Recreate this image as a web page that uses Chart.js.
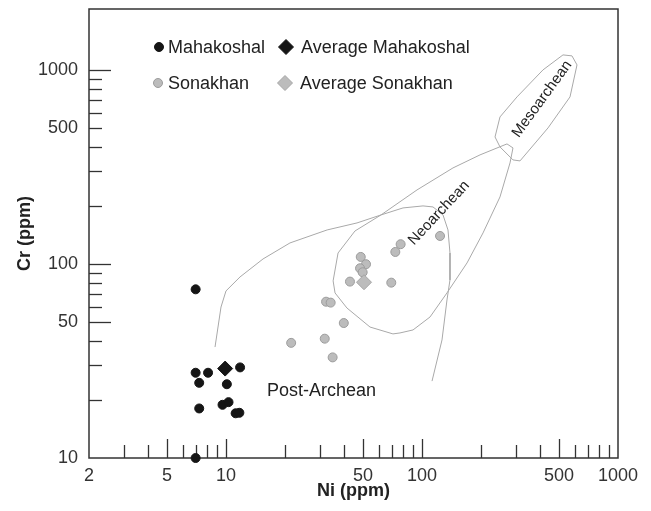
<!DOCTYPE html>
<html>
<head>
<meta charset="utf-8">
<script src="https://cdn.jsdelivr.net/npm/chart.js@4/dist/chart.umd.min.js"></script>
<style>
  html, body { margin: 0; padding: 0; background: #fff; }
</style>
</head>
<body>
<canvas id="grafico" width="651" height="511"></canvas>
<script>
// pontos das amostras (Ni, Cr em ppm)
const mahakoshalNi = [7.0, 7.0, 8.1, 11.8, 7.3, 10.1, 7.3, 9.6, 10.3, 11.2, 11.7, 7.0]
const mahakoshalCr = [74, 27.5, 27.5, 29.3, 24.4, 24.0, 18.0, 18.8, 19.4, 17.0, 17.1, 10]
const sonakhanNi = [21.5, 31.9, 35.0, 39.9, 32.4, 34.2, 42.9, 48.7, 51.8, 48.3, 49.8, 69.7, 73.1, 77.8, 123.6]
const sonakhanCr = [39.2, 41.2, 33.0, 49.6, 63.9, 63.2, 81.1, 108.7, 99.7, 95.0, 90.6, 80.1, 115.3, 126.4, 139.4]
const mediaMahakoshalNi = [9.9]
const mediaMahakoshalCr = [28.9]
const mediaSonakhanNi = [50.6]
const mediaSonakhanCr = [80.5]

// contornos dos campos
const campoNi = [8.79, 9.43, 10.0, 11.79, 15.45, 21.2, 32.8, 46.6, 61.8, 94.3, 143.9, 197.7, 271.4, 291.2, 281.2, 250, 204.8, 169.7, 134.1, 109.9, 90.0, 77.2, 71.1, 54.3, 41.4, 36.0, 35.2, 37.3, 45.5, 61.8, 80.0, 101.2, 113.8, 128.0, 135.7, 138.9, 138.9, 134.1, 126.5, 112.5]
const campoCr = [37.3, 60.0, 72.6, 85.7, 106.1, 128.3, 149.7, 162.7, 178.9, 240.7, 312.5, 364.8, 415.5, 396.2, 331.6, 221.5, 144.5, 101.2, 70.9, 53.3, 45.7, 44.1, 43.6, 47.3, 59.3, 70.9, 81.8, 113.9, 147.9, 178.9, 194.4, 199.1, 196.7, 178.9, 149.7, 113.9, 82.7, 65.2, 40.6, 24.9]
const mesoNi = [235.8, 250, 305.3, 414.4, 524.0, 582.4, 617.8, 569, 439.4, 316.2, 291.2, 250, 235.8]
const mesoCr = [451.3, 572.4, 725.8, 1000, 1195, 1181, 1061, 725.8, 502.3, 339.6, 343.7, 401, 451.3]

// eixos
const xTicks = [2, 5, 10, 50, 100, 500, 1000]
const yTicks = [10, 50, 100, 500, 1000]
const xMaiores = [5, 10, 50, 100, 500]
const xMenores = [3, 4, 6, 7, 8, 9, 20, 30, 40, 60, 70, 80, 90, 200, 300, 400, 600, 700, 800, 900]
const yMaiores = [50, 100, 1000]
const yMenores = [20, 30, 40, 60, 70, 80, 90, 200, 300, 400, 500, 600, 700, 800, 900]

const pares = (xs, ys) => xs.map((x, i) => ({ x: x, y: ys[i] }))

Chart.defaults.font.family = "'Liberation Sans', Arial, sans-serif"
Chart.defaults.color = '#333'

const cinzaLinha = '#a9a9a9'
const fonteTexto = "18px 'Liberation Sans', Arial, sans-serif"

// moldura e ticks para dentro
const moldura = {
    id: 'moldura',
    beforeDatasetsDraw(chart) {
        const { ctx, chartArea: a, scales: { x, y } } = chart
        ctx.save()
        ctx.strokeStyle = '#333'
        ctx.lineWidth = 1.5
        ctx.strokeRect(a.left, a.top, a.right - a.left, a.bottom - a.top)

        ctx.lineWidth = 1.3
        const tickX = (v, len) => {
            const px = Math.round(x.getPixelForValue(v)) + 0.5
            ctx.beginPath(); ctx.moveTo(px, a.bottom); ctx.lineTo(px, a.bottom - len); ctx.stroke()
        }
        const tickY = (v, len) => {
            const py = Math.round(y.getPixelForValue(v)) + 0.5
            ctx.beginPath(); ctx.moveTo(a.left, py); ctx.lineTo(a.left + len, py); ctx.stroke()
        }
        xMaiores.forEach(v => tickX(v, 19))
        xMenores.forEach(v => tickX(v, 13))
        yMaiores.forEach(v => tickY(v, 22))
        yMenores.forEach(v => tickY(v, 13))
        ctx.restore()
    }
}

// legenda e nomes dos campos
const rotulos = {
    id: 'rotulos',
    afterDatasetsDraw(chart) {
        const { ctx, chartArea: a, scales: { x, y } } = chart
        const ds = chart.data.datasets
        ctx.save()

        const itens = [
            { d: 0, px: a.left + 70, tx: a.left + 79, py: a.top + 38, label: 'Mahakoshal' },
            { d: 2, px: a.left + 197, tx: a.left + 212, py: a.top + 38, label: 'Average Mahakoshal' },
            { d: 1, px: a.left + 69, tx: a.left + 79, py: a.top + 74, label: 'Sonakhan' },
            { d: 3, px: a.left + 196, tx: a.left + 211, py: a.top + 74, label: 'Average Sonakhan' }
        ]
        itens.forEach(it => {
            const set = ds[it.d]
            ctx.fillStyle = set.backgroundColor
            ctx.strokeStyle = set.borderColor
            ctx.lineWidth = set.borderWidth
            Chart.helpers.drawPoint(ctx, {
                pointStyle: set.pointStyle,
                radius: set.pointRadius,
                borderWidth: set.borderWidth,
                rotation: 0
            }, it.px, it.py)
            ctx.fillStyle = '#222'
            ctx.font = fonteTexto
            ctx.textAlign = 'left'
            ctx.textBaseline = 'middle'
            ctx.fillText(it.label, it.tx, it.py + 1)
        })

        ctx.fillStyle = '#222'
        ctx.font = fonteTexto
        ctx.textAlign = 'left'
        ctx.textBaseline = 'middle'
        ctx.fillText('Post-Archean', x.getPixelForValue(16.2), y.getPixelForValue(22.2))

        ctx.font = "15px 'Liberation Sans', Arial, sans-serif"
        ctx.textAlign = 'center'
        const girado = (txt, vx, vy, ang) => {
            ctx.save()
            ctx.translate(x.getPixelForValue(vx), y.getPixelForValue(vy))
            ctx.rotate(ang * Math.PI / 180)
            ctx.fillText(txt, 0, 0)
            ctx.restore()
        }
        girado('Neoarchean', 122, 183, -47)
        girado('Mesoarchean', 410, 708, -54)
        ctx.restore()
    }
}

const config = {
    type: 'scatter',
    data: {
        datasets: [
            {
                label: 'Mahakoshal',
                data: pares(mahakoshalNi, mahakoshalCr),
                pointStyle: 'circle',
                pointRadius: 4.5,
                backgroundColor: '#151515',
                borderColor: '#151515',
                borderWidth: 1,
                clip: false,
                order: 1
            },
            {
                label: 'Sonakhan',
                data: pares(sonakhanNi, sonakhanCr),
                pointStyle: 'circle',
                pointRadius: 4.5,
                backgroundColor: '#bcbcbc',
                borderColor: '#9c9c9c',
                borderWidth: 1,
                clip: false,
                order: 1
            },
            {
                label: 'Average Mahakoshal',
                data: pares(mediaMahakoshalNi, mediaMahakoshalCr),
                pointStyle: 'rectRot',
                pointRadius: 7.5,
                backgroundColor: '#151515',
                borderColor: '#151515',
                borderWidth: 1,
                clip: false,
                order: 0
            },
            {
                label: 'Average Sonakhan',
                data: pares(mediaSonakhanNi, mediaSonakhanCr),
                pointStyle: 'rectRot',
                pointRadius: 7.5,
                backgroundColor: '#bcbcbc',
                borderColor: '#a5a5a5',
                borderWidth: 1,
                clip: false,
                order: 0
            },
            {
                label: 'campo',
                data: pares(campoNi, campoCr),
                showLine: true,
                pointRadius: 0,
                borderColor: cinzaLinha,
                borderWidth: 1,
                fill: false,
                order: 5
            },
            {
                label: 'meso',
                data: pares(mesoNi, mesoCr),
                showLine: true,
                pointRadius: 0,
                borderColor: cinzaLinha,
                borderWidth: 1,
                fill: false,
                order: 5
            }
        ]
    },
    options: {
        responsive: false,
        animation: false,
        layout: { padding: { top: 9, right: 33, left: 0, bottom: 0 } },
        plugins: {
            legend: { display: false },
            tooltip: { enabled: false }
        },
        scales: {
            x: {
                type: 'logarithmic',
                position: 'bottom',
                min: 2,
                max: 1000,
                grid: { display: false, drawTicks: false },
                border: { display: false },
                afterBuildTicks: s => { s.ticks = xTicks.map(v => ({ value: v })) },
                afterFit: s => { s.height = 53; s.paddingLeft = 0; s.paddingRight = 0 },
                ticks: {
                    autoSkip: false,
                    maxRotation: 0,
                    padding: 7,
                    color: '#333',
                    font: { size: 18 },
                    callback: v => String(v)
                },
                title: {
                    display: true,
                    text: 'Ni (ppm)',
                    color: '#222',
                    font: { size: 18, weight: 'bold' },
                    padding: { top: 0, bottom: 9 }
                }
            },
            y: {
                type: 'logarithmic',
                position: 'left',
                min: 10,
                max: 2060,
                grid: { display: false, drawTicks: false },
                border: { display: false },
                afterBuildTicks: s => { s.ticks = yTicks.map(v => ({ value: v })) },
                afterFit: s => { s.width = 89; s.paddingTop = 0; s.paddingBottom = 0 },
                ticks: {
                    autoSkip: false,
                    padding: 11,
                    color: '#333',
                    font: { size: 18 },
                    callback: v => String(v)
                },
                title: {
                    display: true,
                    text: 'Cr (ppm)',
                    color: '#222',
                    font: { size: 18, weight: 'bold' },
                    padding: { top: 14, bottom: 0 }
                }
            }
        }
    },
    plugins: [moldura, rotulos]
}

const grafico = new Chart(document.getElementById('grafico'), config)
</script>
</body>
</html>
